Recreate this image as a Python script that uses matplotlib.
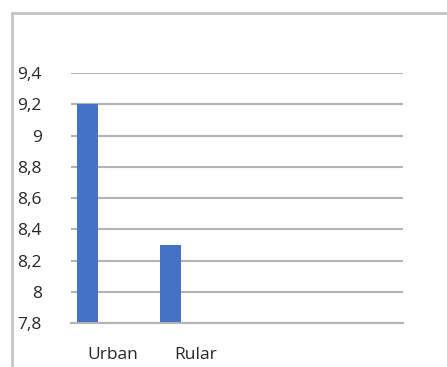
import matplotlib.pyplot as plt
import numpy as np
from matplotlib.patches import Rectangle

categories = ["Urban", "Rular"]
values = [9.2, 8.3]
y_ticks = [7.8, 8.0, 8.2, 8.4, 8.6, 8.8, 9.0, 9.2, 9.4]
y_labels = ["7,8", "8", "8,2", "8,4", "8,6", "8,8", "9", "9,2", "9,4"]

plt.rcParams["font.family"] = ["Open Sans", "DejaVu Sans"]

fig = plt.figure(figsize=(4.47, 3.67), dpi=100)
ax = fig.add_axes([71 / 447, 1 - 323 / 367, 332 / 447, 250 / 367])

# outer chart frame (runs off the right and bottom edge)
fig.patches.append(Rectangle((12 / 447, -0.1), 1.2, 1 - 13 / 367 + 0.1,
                             transform=fig.transFigure, fill=False,
                             edgecolor="#c4c4c4", linewidth=2))

centers = np.arange(len(categories)) + 0.5
ax.bar(centers - 0.3, values, width=0.25, color="#4472C4", zorder=3)

ax.set_xlim(0, 4)
ax.set_ylim(7.8, 9.4)
ax.set_yticks(y_ticks)
ax.set_yticklabels(y_labels)
ax.set_xticks(centers)
ax.set_xticklabels(categories)

ax.yaxis.grid(True, color="#b4b4b4", linewidth=1.5)
ax.set_axisbelow(True)
for s in ["top", "right", "left"]:
    ax.spines[s].set_visible(False)
ax.spines["bottom"].set_color("#b4b4b4")
ax.spines["bottom"].set_linewidth(1.5)
ax.spines["bottom"].set_zorder(4)

ax.tick_params(axis="y", length=0, pad=21, labelsize=12.5, colors="#262626")
ax.tick_params(axis="x", length=0, pad=17, labelsize=12.5, colors="#262626")

fig.savefig("out.png", dpi=100)
